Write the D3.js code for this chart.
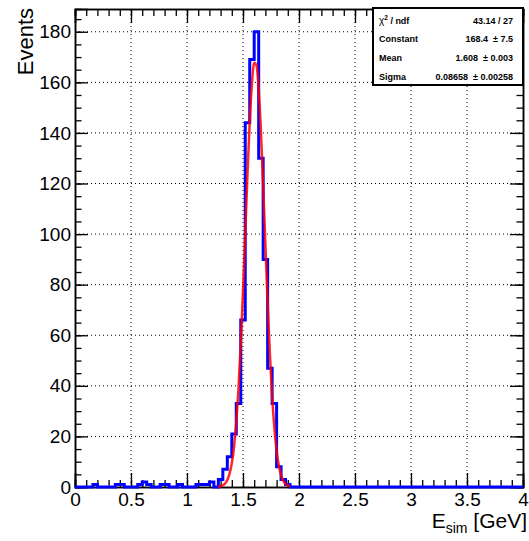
<!DOCTYPE html>
<html>
<head>
<meta charset="utf-8">
<script src="https://cdn.jsdelivr.net/npm/d3@7"></script>
<style>
  body { margin: 0; background: #fff; }
  svg text { font-family: "Liberation Sans", Arial, sans-serif; }
</style>
</head>
<body>
<div id="chart"></div>
<script>
// histogram: 100 bins of 0.04 GeV from 0 to 4
const xMin = 0;
const binWidth = 0.04;
const counts = [
  0, 0, 0, 0, 1, 0, 0, 0, 0, 1,
  1, 0, 0, 0, 1, 2, 1, 0, 0, 1,
  1, 0, 0, 1, 0, 0, 0, 1, 1, 1,
  2, 0, 3, 7, 12, 21, 33, 66, 144, 169,
  180, 130, 90, 47, 33, 8, 3, 1, 0, 0,
  0, 0, 0, 0, 0, 0, 0, 0, 0, 0,
  0, 0, 0, 0, 0, 0, 0, 0, 0, 0,
  0, 0, 0, 0, 0, 0, 0, 0, 0, 0,
  0, 0, 0, 0, 0, 0, 0, 0, 0, 0,
  0, 0, 0, 0, 0, 0, 0, 0, 0, 0
];

// fitted curve
const fitE = [1.28, 1.30, 1.32, 1.34, 1.36, 1.38, 1.40, 1.42, 1.44, 1.46, 1.48, 1.50,
  1.52, 1.54, 1.56, 1.58, 1.60, 1.62, 1.64, 1.66, 1.68, 1.70, 1.72, 1.74, 1.76,
  1.78, 1.80, 1.82, 1.84, 1.86, 1.88, 1.90, 1.92];
const fitY = [0.1, 0.3, 0.7, 1.4, 2.8, 5.3, 9.4, 15.9, 25.6, 39.1, 56.5, 77.4,
  100.4, 123.8, 144.4, 159.8, 167.7, 166.8, 157.3, 140.6, 119.1, 95.7, 72.9, 52.6, 36.1,
  23.4, 14.4, 8.4, 4.6, 2.4, 1.2, 0.6, 0.3];

const xTicks = [0, 0.5, 1, 1.5, 2, 2.5, 3, 3.5, 4];
const yTicks = [0, 20, 40, 60, 80, 100, 120, 140, 160, 180];

const statNames = ["ndf", "Constant", "Mean", "Sigma"];
const statValues = ["43.14 / 27", "168.4  \u00b1 7.5", "1.608  \u00b1 0.003", "0.08658  \u00b1 0.00258"];

const width = 529, height = 541;
const svg = d3.select("#chart").append("svg")
    .attr("width", width)
    .attr("height", height);

const x = d3.scaleLinear().domain([0, 4]).range([75, 523]);
const y = d3.scaleLinear().domain([0, 189]).range([487, 9]);

// grid
svg.append("g").selectAll("line")
    .data(xTicks.slice(1, -1))
    .enter().append("line")
    .attr("x1", d => x(d)).attr("x2", d => x(d))
    .attr("y1", y(0)).attr("y2", y(189))
    .attr("stroke", "black")
    .attr("stroke-width", 1)
    .attr("stroke-dasharray", "1,3");

svg.append("g").selectAll("line")
    .data(yTicks.slice(1))
    .enter().append("line")
    .attr("x1", x(0)).attr("x2", x(4))
    .attr("y1", d => y(d)).attr("y2", d => y(d))
    .attr("stroke", "black")
    .attr("stroke-width", 1)
    .attr("stroke-dasharray", "1,3");

// axes (ticks pointing inward, ROOT style)
const xMinor = d3.range(0, 40.5).map(d => d / 10);
const yMinor = d3.range(0, 38).map(d => d * 5);

svg.append("g")
    .attr("transform", `translate(0,${y(0)})`)
    .call(d3.axisBottom(x).tickValues(xMinor).tickSize(-7).tickFormat(""));
svg.append("g")
    .attr("class", "xaxis")
    .attr("transform", `translate(0,${y(0)})`)
    .call(d3.axisBottom(x).tickValues(xTicks).tickSize(-14).tickPadding(6)
        .tickFormat(d3.format("~g")));
svg.append("g")
    .attr("transform", `translate(0,${y(189)})`)
    .call(d3.axisTop(x).tickValues(xMinor).tickSize(-7).tickFormat(""));
svg.append("g")
    .attr("transform", `translate(0,${y(189)})`)
    .call(d3.axisTop(x).tickValues(xTicks).tickSize(-14).tickFormat(""));

svg.append("g")
    .attr("transform", `translate(${x(0)},0)`)
    .call(d3.axisLeft(y).tickValues(yMinor).tickSize(-6.5).tickFormat(""));
svg.append("g")
    .attr("class", "yaxis")
    .attr("transform", `translate(${x(0)},0)`)
    .call(d3.axisLeft(y).tickValues(yTicks).tickSize(-13).tickPadding(4));
svg.append("g")
    .attr("transform", `translate(${x(4)},0)`)
    .call(d3.axisRight(y).tickValues(yMinor).tickSize(-6.5).tickFormat(""));
svg.append("g")
    .attr("transform", `translate(${x(4)},0)`)
    .call(d3.axisRight(y).tickValues(yTicks).tickSize(-13).tickFormat(""));

svg.selectAll(".domain").attr("stroke", "black").attr("stroke-width", 1.5);
svg.selectAll(".tick line").attr("stroke", "black").attr("stroke-width", 1.3);
svg.selectAll(".xaxis text, .yaxis text")
    .attr("font-family", "Liberation Sans, Arial, sans-serif")
    .attr("font-size", 19)
    .attr("fill", "black");
svg.selectAll(".xaxis text").attr("dy", "0.71em");

// histogram outline
const steps = [[xMin, 0]];
counts.forEach((c, i) => {
    steps.push([xMin + i * binWidth, c]);
    steps.push([xMin + (i + 1) * binWidth, c]);
});
steps.push([xMin + counts.length * binWidth, 0]);

svg.append("path")
    .datum(steps)
    .attr("fill", "none")
    .attr("stroke", "#0000ff")
    .attr("stroke-width", 3)
    .attr("stroke-linejoin", "miter")
    .attr("d", d3.line().x(d => x(d[0])).y(d => y(d[1])));

// fit
svg.append("path")
    .datum(fitE.map((e, i) => [e, fitY[i]]))
    .attr("fill", "none")
    .attr("stroke", "#ff0000")
    .attr("stroke-width", 2.5)
    .attr("stroke-opacity", 0.85)
    .attr("d", d3.line().curve(d3.curveMonotoneX).x(d => x(d[0])).y(d => y(d[1])));

// axis titles
svg.append("text")
    .attr("transform", "translate(33,8) rotate(-90)")
    .attr("text-anchor", "end")
    .attr("font-size", 22)
    .text("Events");

const xt = svg.append("text")
    .attr("x", 527)
    .attr("y", 528)
    .attr("text-anchor", "end")
    .attr("font-size", 21);
xt.append("tspan").text("E");
xt.append("tspan").attr("font-size", 14).attr("dy", 5).text("sim");
xt.append("tspan").attr("dy", -5).text(" [GeV]");

// stats box
const box = svg.append("g");
box.append("rect")
    .attr("x", 373).attr("y", 8)
    .attr("width", 150).attr("height", 77)
    .attr("fill", "white")
    .attr("stroke", "black")
    .attr("stroke-width", 2);

statNames.forEach((name, i) => {
    const ty = 23.5 + i * 18.7;
    const t = box.append("text")
        .attr("x", 379).attr("y", ty)
        .attr("font-size", 9)
        .attr("font-weight", "bold");
    if (i === 0) {
        t.append("tspan").attr("font-weight", "normal").attr("font-size", 10).text("\u03c7");
        t.append("tspan").attr("font-size", 6.5).attr("dy", -4).text("2");
        t.append("tspan").attr("dy", 4).text(" / " + name);
    } else {
        t.text(name);
    }
    box.append("text")
        .attr("x", 513).attr("y", ty)
        .attr("text-anchor", "end")
        .attr("font-size", 9)
        .attr("font-weight", "bold")
        .attr("xml:space", "preserve")
        .style("white-space", "pre")
        .text(statValues[i]);
});
</script>
</body>
</html>
